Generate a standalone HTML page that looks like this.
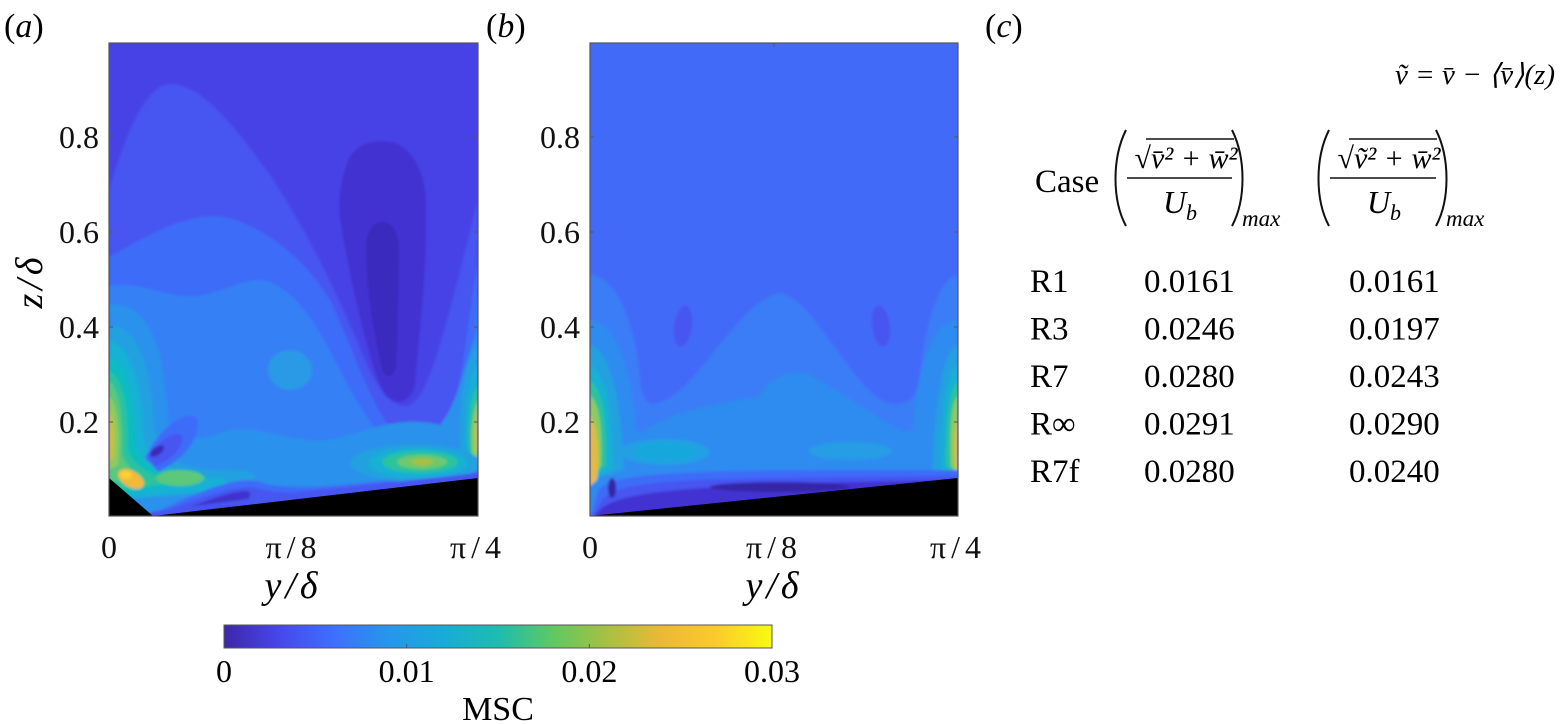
<!DOCTYPE html>
<html><head><meta charset="utf-8"><style>
html,body{margin:0;padding:0;background:#fff;}
svg{display:block;font-family:"Liberation Serif",serif;}
</style></head><body>
<svg id="fig" width="1563" height="724" viewBox="0 0 1563 724" xmlns="http://www.w3.org/2000/svg">
<defs>
<clipPath id="ca"><rect x="109" y="43" width="369" height="473"/></clipPath>
<clipPath id="cb"><rect x="590" y="43" width="368" height="473"/></clipPath>
<filter id="sm"><feGaussianBlur stdDeviation="1.2"/></filter>
<linearGradient id="parula" x1="0" x2="1" y1="0" y2="0">
<stop offset="0" stop-color="#3e26a8"/><stop offset="0.1" stop-color="#4747eb"/>
<stop offset="0.2" stop-color="#3e6fff"/><stop offset="0.3" stop-color="#2796eb"/>
<stop offset="0.4" stop-color="#17acd8"/><stop offset="0.5" stop-color="#1dbcb0"/>
<stop offset="0.6" stop-color="#5ec962"/><stop offset="0.7" stop-color="#a8c043"/>
<stop offset="0.8" stop-color="#ecb935"/><stop offset="0.9" stop-color="#fbcb2c"/>
<stop offset="1" stop-color="#f9fb0e"/></linearGradient>
</defs>

<!-- Panel a -->
<g clip-path="url(#ca)">
<g filter="url(#sm)">
<rect x="100" y="40" width="390" height="480" fill="#4743e6"/>
<path fill="#4655f1" d="M109,189 C130,120 150,84 170,84 C200,84 230,120 270,175 C310,235 340,300 365,360 C380,395 395,410 410,405 C430,395 445,330 478,200 L478,516 L109,516 Z"/>
<path fill="#4233d2" d="M345,170 C350,145 370,140 385,141 C410,142 425,170 426,200 C428,260 420,330 415,385 C410,405 395,405 385,395 C370,370 350,280 340,220 C338,200 340,185 345,170 Z"/>
<path fill="#3b2bbe" d="M366,250 C366,225 378,220 385,222 C397,225 400,240 399,260 C398,300 398,340 396,368 C392,378 388,378 383,372 C375,340 366,290 366,250 Z"/>
<path fill="#3e6cf8" d="M109,257 C140,240 180,215 215,216 C250,218 300,250 330,300 C350,340 365,390 385,420 C400,440 420,448 440,440 C460,420 470,300 478,262 L478,516 L109,516 Z"/>
<path fill="#3580f5" d="M109,286 C140,280 170,300 200,296 C230,290 250,275 270,282 C300,295 320,330 340,370 C360,410 380,440 400,450 C430,460 455,450 465,420 C472,380 476,330 478,290 L478,516 L109,516 Z"/>
<path fill="#2b91ec" d="M109,305 C150,300 165,350 168,420 C175,445 200,440 230,430 C260,425 300,445 330,440 C370,430 400,415 440,425 C460,400 465,360 478,330 L478,516 L109,516Z"/>
<ellipse cx="290" cy="370" rx="22" ry="20" fill="#2a9ae6"/>
<path fill="#22a0e0" d="M109,326 C140,325 152,370 155,430 C165,470 200,470 240,470 C260,470 260,485 240,492 L109,500Z"/>
<path fill="#13b1d4" d="M109,341 C133,345 142,390 144,440 C155,470 190,475 220,478 C235,482 225,490 200,492 L109,500Z"/>
<path fill="#08bcc0" d="M109,357 C128,362 134,400 135,445 C145,470 175,478 195,482 L109,495Z"/>
<path fill="#2cc39e" d="M109,371 C124,378 128,410 128,450 C135,470 160,478 175,482 L109,492Z"/>
<ellipse cx="180" cy="478" rx="24" ry="8" fill="#5cc879"/>
<path fill="#5cc879" d="M109,381 C120,390 123,420 122,455 C130,472 140,480 150,484 L109,480Z"/>
<path fill="#8fca5c" d="M109,396 C118,405 120,430 118,465 L109,470Z"/>
<path fill="#c8bf40" d="M109,410 C115,420 115,445 113,460 L109,460Z"/>
<ellipse cx="131" cy="479" rx="14" ry="8" fill="#f2b83a" transform="rotate(30 131 479)"/>
<ellipse cx="126" cy="475" rx="6" ry="4" fill="#fbd030"/>
<!-- dark swirl -->
<path fill="#3e6cf8" d="M145,458 C158,430 185,408 197,418 C202,440 180,462 158,472 Z"/>
<path fill="#4655f1" d="M148,456 C160,440 175,430 182,436 C184,448 170,460 156,466 Z"/>
<ellipse cx="157" cy="451" rx="8" ry="4" fill="#3a2ab6" transform="rotate(-35 157 451)"/>
<!-- bottom dark strip -->
<path fill="#3e6cf8" d="M148,516 C190,496 230,476 258,481 C268,486 290,488 330,486 L478,472 L478,520 L148,520Z"/>
<path fill="#4655f1" d="M152,516 C195,500 232,484 256,488 C266,492 290,494 330,492 L478,477 L478,520 L152,520Z"/>
<path fill="#3f30cc" d="M175,512 C210,500 238,488 250,492 C252,500 240,506 230,508 Z"/>
<!-- right side -->
<path fill="#22a0e0" d="M478,345 C462,360 456,420 462,470 L478,470Z"/>
<path fill="#13b1d4" d="M478,365 C466,380 462,430 468,470 L478,470Z"/>
<path fill="#2cc39e" d="M478,385 C468,400 466,440 472,468 L478,470Z"/>
<path fill="#8fca5c" d="M478,400 C471,415 470,445 474,462 L478,462Z"/>
<path fill="#c8c040" d="M478,412 C474,425 474,445 478,455Z"/>
<ellipse cx="415" cy="463" rx="65" ry="19" fill="#22a0e0"/>
<ellipse cx="418" cy="463" rx="50" ry="15" fill="#13b1d4"/>
<ellipse cx="420" cy="462" rx="38" ry="11" fill="#2cc39e"/>
<ellipse cx="422" cy="462" rx="25" ry="7" fill="#6ec86e"/>
<ellipse cx="422" cy="462" rx="11" ry="3.5" fill="#a8c043"/>
<path fill="#4655f1" d="M150,516 L478,478 L478,473 L300,492 L150,512Z"/>
</g>
<polygon fill="#000" points="109,478 153,516 478,478 478,520 100,520 100,478"/>
</g>
<rect x="109" y="43" width="369" height="473" fill="none" stroke="#555" stroke-width="1.2"/>

<!-- Panel b -->
<g clip-path="url(#cb)">
<g filter="url(#sm)">
<rect x="580" y="40" width="390" height="480" fill="#426af8"/>
<path fill="#3a7df6" d="M590,275 C615,275 635,320 640,380 C643,405 650,407 665,400 C700,385 740,300 780,293 C815,300 850,385 885,402 C905,408 915,400 920,380 C925,310 945,275 958,275 L958,516 L590,516Z"/>
<ellipse cx="683" cy="326" rx="9" ry="21" fill="#4656f0" transform="rotate(8 683 326)"/>
<ellipse cx="881" cy="326" rx="9" ry="21" fill="#4656f0" transform="rotate(-8 881 326)"/>
<path fill="#2f8bef" d="M590,320 C612,320 632,360 636,430 L642,432 C680,405 740,402 760,395 C770,375 790,370 810,375 C840,390 880,420 905,432 L912,430 C918,360 935,320 958,320 L958,516 L590,516Z"/>
<ellipse cx="665" cy="452" rx="45" ry="13" fill="#22a0e3"/>
<ellipse cx="665" cy="452" rx="30" ry="9" fill="#19a8dc"/>
<ellipse cx="850" cy="451" rx="42" ry="9" fill="#259de5"/>
<path fill="#22a0e0" d="M590,345 C610,350 622,400 624,470 L590,480Z"/>
<path fill="#13b1d4" d="M590,365 C606,372 613,410 613,470 L590,480Z"/>
<path fill="#2cc39e" d="M590,380 C603,390 607,420 606,465 L590,480Z"/>
<path fill="#8fca5c" d="M590,395 C600,405 602,430 601,465 L590,482Z"/>
<path fill="#e6ba3c" d="M590,415 C598,428 599,455 597,480 L590,486Z"/>
<path fill="#22a0e0" d="M958,345 C943,350 935,400 932,470 L958,480Z"/>
<path fill="#13b1d4" d="M958,365 C946,372 941,410 941,470 L958,480Z"/>
<path fill="#2cc39e" d="M958,380 C949,390 946,420 946,465 L958,480Z"/>
<path fill="#8fca5c" d="M958,395 C951,405 950,430 951,465 L958,478Z"/>
<path fill="#d8bd3e" d="M958,418 C954,428 953,450 956,470 L958,472Z"/>
<path fill="#3e6cf8" d="M598,490 C615,470 700,470 958,470 L958,520 L590,520Z"/>
<path fill="#4655f1" d="M602,500 C620,478 700,478 958,476 L958,520 L590,520Z"/>
<path fill="#4233d2" d="M600,510 C620,490 700,484 958,480 L958,520 L590,520Z"/>
<ellipse cx="780" cy="487" rx="70" ry="5" fill="#3626a8"/>
<ellipse cx="612" cy="488" rx="4" ry="10" fill="#3626a8"/>
</g>
<polygon fill="#000" points="590,516 958,478 958,520 590,520"/>
</g>
<rect x="590" y="43" width="368" height="473" fill="none" stroke="#555" stroke-width="1.2"/>

<g id="axes" font-size="32" fill="#111"></g>

<text x="4" y="37" font-size="34">(<tspan font-style="italic">a</tspan>)</text>
<text x="486" y="37" font-size="34">(<tspan font-style="italic">b</tspan>)</text>
<text x="985" y="37" font-size="34">(<tspan font-style="italic">c</tspan>)</text>
<text x="293" y="598" font-size="38" text-anchor="middle" font-style="italic" letter-spacing="4">y/δ</text>
<text x="774" y="598" font-size="38" text-anchor="middle" font-style="italic" letter-spacing="4">y/δ</text>
<text transform="translate(42,281) rotate(-90)" font-size="38" text-anchor="middle" font-style="italic" letter-spacing="4">z/δ</text>

<!-- colorbar -->
<rect x="224" y="625" width="548" height="23" fill="url(#parula)" stroke="#555" stroke-width="1"/>
<g id="cbticks" font-size="32"></g>
<text x="498" y="720" font-size="34" text-anchor="middle">MSC</text>

<!-- table -->
<g id="table" font-size="33">
<text x="1555" y="84" font-size="29" text-anchor="end" font-style="italic">ṽ = v̄ − ⟨v̄⟩(z)</text>
<text x="1035" y="192">Case</text>
<g fill="none" stroke="#111" stroke-width="2">
<path d="M1126,130 C1112,158 1112,200 1126,226"/>
<path d="M1232,130 C1246,158 1246,200 1232,226"/>
<line x1="1127" y1="178" x2="1232" y2="178" stroke-width="1.6"/>
<line x1="1146" y1="139" x2="1234" y2="139" stroke-width="1.4"/>
</g>
<text x="1186" y="168" font-size="30" text-anchor="middle" font-style="italic">√v̄² + w̄²</text>
<text x="1180" y="213" font-size="32" text-anchor="middle" font-style="italic">U<tspan font-size="22" dy="7">b</tspan></text>
<text x="1242" y="226" font-size="23" font-style="italic">max</text>
<g fill="none" stroke="#111" stroke-width="2">
<path d="M1329,130 C1315,158 1315,200 1329,226"/>
<path d="M1436,130 C1450,158 1450,200 1436,226"/>
<line x1="1330" y1="178" x2="1436" y2="178" stroke-width="1.6"/>
<line x1="1349" y1="139" x2="1437" y2="139" stroke-width="1.4"/>
</g>
<text x="1389" y="168" font-size="30" text-anchor="middle" font-style="italic">√ṽ² + w̄²</text>
<text x="1384" y="213" font-size="32" text-anchor="middle" font-style="italic">U<tspan font-size="22" dy="7">b</tspan></text>
<text x="1446" y="226" font-size="23" font-style="italic">max</text>
</g>
</svg>
<script>
const yTicks=[0.2,0.4,0.6,0.8];
const xTickLabels=["0","π/8","π/4"];
const xTickVals=[0,0.5,1];
const cbTickVals=[0,0.01,0.02,0.03];
const cbTickLabels=["0","0.01","0.02","0.03"];
const cases=["R1","R3","R7","R∞","R7f"];
const col1=["0.0161","0.0246","0.0280","0.0291","0.0280"];
const col2=["0.0161","0.0197","0.0243","0.0290","0.0240"];
const NS="http://www.w3.org/2000/svg";
function mk(tag,attrs,parent){const e=document.createElementNS(NS,tag);for(const k in attrs)e.setAttribute(k,attrs[k]);parent.appendChild(e);return e;}
const zy=v=>517-475*v;
const panels=[{x0:109,x1:478,n:'a'},{x0:590,x1:958,n:'b'}];
const axes=document.getElementById('axes');
panels.forEach(p=>{
  yTicks.forEach(v=>{
    const y=zy(v);
    const t=mk('text',{x:p.x0-10,y:y+11,'text-anchor':'end'},axes);
    t.textContent=v.toFixed(1);
    
    
    mk('line',{x1:p.x0,x2:p.x0+4,y1:y,y2:y,stroke:'#555'},axes);
    mk('line',{x1:p.x1,x2:p.x1-4,y1:y,y2:y,stroke:'#555'},axes);
  });
  xTickVals.forEach((v,i)=>{
    const x=p.x0+(p.x1-p.x0)*v;
    const t=mk('text',{x:x,y:558,'text-anchor':'middle','letter-spacing':i?'5':'0'},axes);
    t.textContent=xTickLabels[i];
    
    
    mk('line',{x1:x,x2:x,y1:43,y2:47,stroke:'#555'},axes);
  });
});
const cb=document.getElementById('cbticks');
cbTickVals.forEach((v,i)=>{
  const x=224+548*(v/0.03);
  mk('line',{x1:x,x2:x,y1:644,y2:648,stroke:'#555'},cb);
  const t=mk('text',{x:x,y:682,'text-anchor':'middle'},cb);
  t.textContent=cbTickLabels[i];
  
  
});
const tb=document.getElementById('table');
cases.forEach((c,i)=>{
  const y=292+47.5*i;
  const a=mk('text',{x:1030,y:y},tb);a.textContent=c;
  
  
  const b=mk('text',{x:1144,y:y},tb);b.textContent=col1[i];
  
  
  const d=mk('text',{x:1349,y:y},tb);d.textContent=col2[i];
  
  
});
</script>
</body></html>
